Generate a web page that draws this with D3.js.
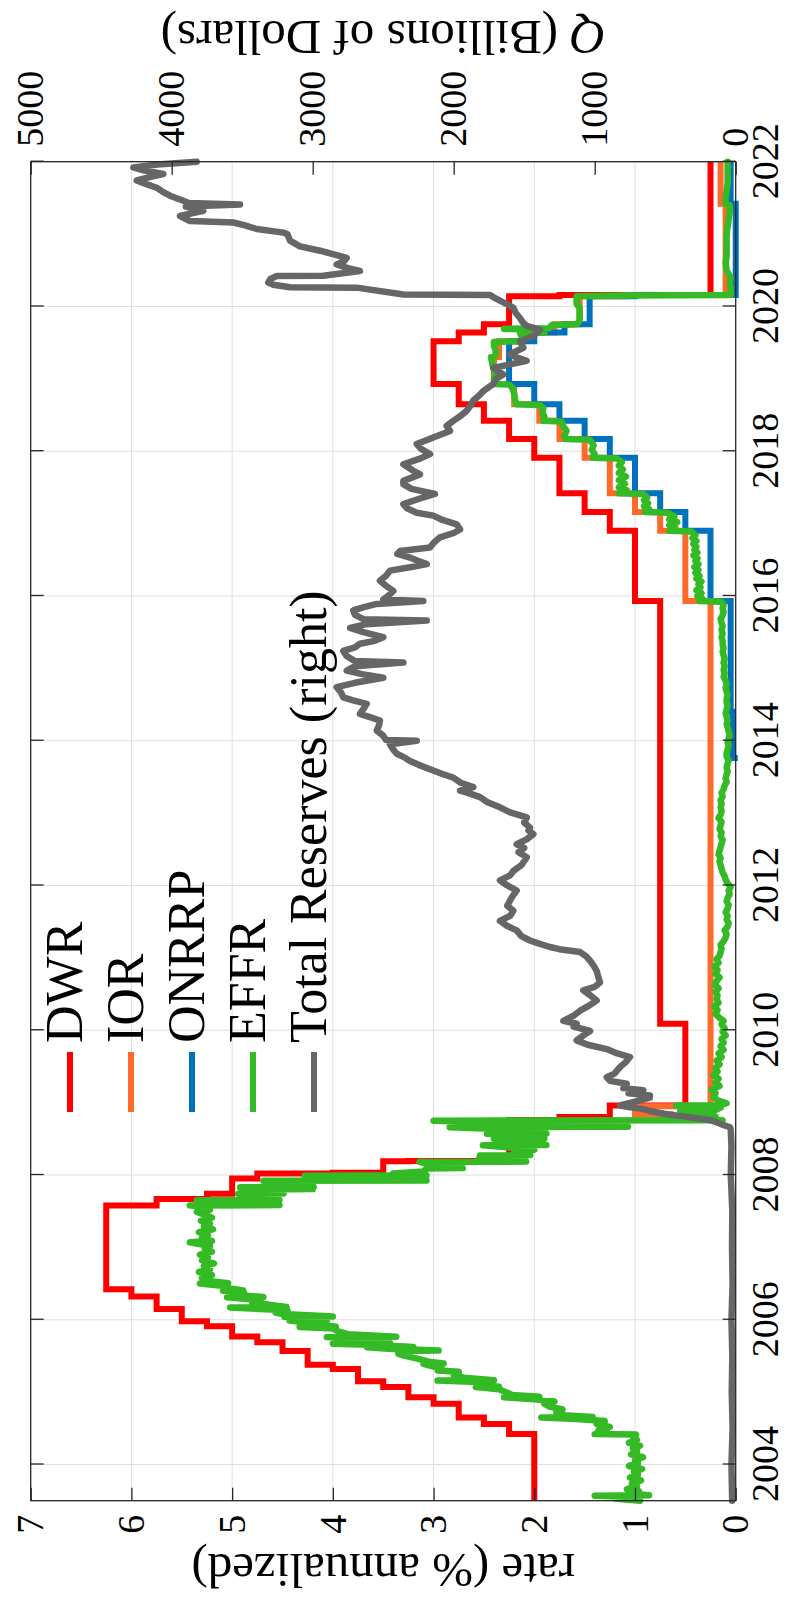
<!DOCTYPE html>
<html>
<head>
<meta charset="utf-8">
<script src="https://cdn.jsdelivr.net/npm/d3@7"></script>
<style>
  body { margin: 0; background: #fff; }
  svg text { font-family: "Liberation Serif", "DejaVu Serif", serif; fill: #000; }
</style>
</head>
<body>
<svg id="chart" width="787" height="1599"></svg>
<script>
// ---- data (decimal year, value) ----
const yearTicks = [2004, 2006, 2008, 2010, 2012, 2014, 2016, 2018, 2020, 2022];
const rateTicks = [0, 1, 2, 3, 4, 5, 6, 7];
const qTicks = [0, 1000, 2000, 3000, 4000, 5000];
const legendLabels = ["DWR", "IOR", "ONRRP", "EFFR", "Total Reserves (right)"];

const dwr = [
  [2003.50, 2.00], [2004.42, 2.25], [2004.56, 2.50], [2004.65, 2.75], [2004.84, 3.00], [2004.93, 3.25],
  [2005.07, 3.50], [2005.15, 3.75], [2005.32, 4.00], [2005.38, 4.25], [2005.57, 4.50], [2005.69, 4.75],
  [2005.77, 5.00], [2005.91, 5.25], [2005.98, 5.50], [2006.15, 5.75], [2006.32, 6.00], [2006.42, 6.25],
  [2007.58, 5.75], [2007.67, 5.25], [2007.74, 5.00], [2007.95, 4.75], [2008.02, 4.00], [2008.03, 3.50],
  [2008.19, 3.25], [2008.195, 2.50], [2008.24, 2.25], [2008.76, 1.75], [2008.80, 1.25], [2008.96, 0.50],
  [2010.09, 0.75], [2015.93, 1.00], [2016.90, 1.25], [2017.16, 1.50], [2017.42, 1.75], [2017.91, 2.00],
  [2018.17, 2.25], [2018.42, 2.50], [2018.65, 2.75], [2018.93, 3.00], [2019.52, 2.75], [2019.64, 2.50],
  [2019.755, 2.25], [2020.14, 1.75], [2020.16, 0.25], [2022.00, 0.25]
];

const ior = [
  [2008.74, 0.75], [2008.79, 0.65], [2008.84, 1.00], [2008.95, 0.25], [2015.93, 0.50], [2016.90, 0.75],
  [2017.16, 1.00], [2017.42, 1.25], [2017.91, 1.50], [2018.17, 1.75], [2018.42, 1.95], [2018.65, 2.20],
  [2018.93, 2.40], [2019.30, 2.35], [2019.52, 2.10], [2019.64, 1.80], [2019.755, 1.55], [2020.14, 1.10],
  [2020.16, 0.10], [2021.42, 0.15], [2022.00, 0.15]
];

const onrrp = [
  [2013.72, 0.01], [2013.76, 0.03], [2014.40, 0.05], [2015.93, 0.25], [2016.90, 0.50], [2017.16, 0.75],
  [2017.42, 1.00], [2017.91, 1.25], [2018.17, 1.50], [2018.42, 1.75], [2018.65, 2.00], [2018.93, 2.25],
  [2019.52, 2.00], [2019.64, 1.70], [2019.755, 1.45], [2020.14, 1.00], [2020.16, 0.00], [2021.42, 0.05],
  [2022.00, 0.05]
];

const effr = [
  [2003.50, 0.95], [2003.53, 1.20], [2003.55, 1.00], [2003.57, 1.40], [2003.575, 0.86], [2003.60, 1.05],
  [2003.63, 0.96], [2003.66, 1.08], [2003.70, 0.98], [2003.74, 1.03], [2003.78, 0.94], [2003.82, 1.05],
  [2003.86, 0.97], [2003.90, 1.01], [2003.94, 0.93], [2003.98, 1.06], [2004.02, 0.97], [2004.06, 1.00],
  [2004.10, 0.92], [2004.14, 1.04], [2004.18, 0.98], [2004.22, 1.02], [2004.26, 0.95], [2004.30, 1.06],
  [2004.34, 0.98], [2004.38, 1.02], [2004.415, 0.99],
  [2004.42, 1.40], [2004.45, 1.28], [2004.48, 1.36], [2004.52, 1.25], [2004.56, 1.38], [2004.60, 1.30],
  [2004.63, 1.58], [2004.65, 1.93], [2004.655, 1.42], [2004.68, 1.70], [2004.72, 1.78], [2004.76, 1.72],
  [2004.80, 1.85], [2004.84, 1.90], [2004.87, 1.80], [2004.90, 2.00], [2004.93, 2.30], [2004.935, 1.95],
  [2004.96, 2.22], [2005.00, 2.28], [2005.04, 2.35], [2005.07, 2.58], [2005.075, 2.35], [2005.10, 2.50],
  [2005.14, 2.55], [2005.16, 2.96], [2005.165, 2.40], [2005.20, 2.70], [2005.24, 2.80], [2005.28, 2.75],
  [2005.30, 2.96], [2005.33, 2.92], [2005.36, 3.02], [2005.39, 3.10], [2005.395, 2.90], [2005.42, 3.05],
  [2005.46, 3.15], [2005.50, 3.28], [2005.53, 3.35], [2005.57, 3.35], [2005.575, 2.95], [2005.60, 3.45],
  [2005.62, 3.66], [2005.625, 3.20], [2005.65, 3.55], [2005.67, 4.00], [2005.675, 3.43], [2005.70, 3.60],
  [2005.74, 3.75], [2005.76, 4.06], [2005.765, 3.37], [2005.80, 3.85], [2005.84, 3.95], [2005.88, 4.00],
  [2005.90, 4.33], [2005.905, 3.97], [2005.94, 4.15], [2005.99, 4.43], [2005.995, 4.06], [2006.03, 4.30],
  [2006.04, 4.48], [2006.045, 4.00], [2006.08, 4.50], [2006.10, 4.57], [2006.13, 4.45], [2006.17, 5.02],
  [2006.175, 4.46], [2006.20, 4.60], [2006.24, 4.80], [2006.27, 4.72], [2006.31, 5.05], [2006.315, 4.69],
  [2006.34, 4.95], [2006.37, 4.88], [2006.40, 5.09], [2006.405, 4.89], [2006.44, 5.05], [2006.47, 5.10],
  [2006.50, 5.32], [2006.505, 5.04], [2006.54, 5.25], [2006.58, 5.30], [2006.62, 5.20], [2006.66, 5.33],
  [2006.70, 5.22], [2006.74, 5.28], [2006.78, 5.18], [2006.82, 5.30], [2006.86, 5.24], [2006.90, 5.32],
  [2006.94, 5.20], [2006.98, 5.27], [2007.02, 5.22], [2007.07, 5.42], [2007.09, 5.20], [2007.13, 5.30],
  [2007.17, 5.24], [2007.21, 5.33], [2007.25, 5.19], [2007.29, 5.28], [2007.33, 5.22], [2007.37, 5.31],
  [2007.41, 5.20], [2007.45, 5.27], [2007.49, 5.35], [2007.52, 5.22], [2007.56, 5.30], [2007.58, 5.42],
  [2007.585, 4.53], [2007.62, 5.10], [2007.65, 5.35], [2007.655, 4.53], [2007.69, 4.85], [2007.74, 4.94],
  [2007.745, 4.49], [2007.78, 4.75], [2007.80, 4.69], [2007.805, 4.20], [2007.83, 4.92], [2007.835, 4.19],
  [2007.87, 4.50], [2007.92, 4.69], [2007.925, 3.07], [2007.95, 4.23], [2007.96, 3.40], [2007.99, 4.28],
  [2007.995, 3.07], [2008.02, 3.40], [2008.05, 3.10], [2008.09, 3.07], [2008.095, 2.71], [2008.13, 3.00],
  [2008.18, 3.14], [2008.185, 2.08], [2008.22, 2.55], [2008.25, 2.30], [2008.27, 2.54], [2008.275, 2.04],
  [2008.31, 2.20], [2008.35, 2.00], [2008.41, 2.51], [2008.415, 1.88], [2008.45, 2.10], [2008.50, 2.40],
  [2008.505, 1.90], [2008.54, 2.05], [2008.57, 2.47], [2008.575, 1.88], [2008.62, 2.10], [2008.66, 2.84],
  [2008.665, 1.07], [2008.70, 1.80], [2008.75, 3.00], [2008.755, 0.13], [2008.78, 0.25], [2008.80, 0.70],
  [2008.805, 0.20], [2008.84, 0.30], [2008.89, 0.55], [2008.895, 0.20], [2008.93, 0.15], [2008.96, 0.59],
  [2008.965, 0.18], [2008.99, 0.09],
  [2009.03, 0.18], [2009.08, 0.22], [2009.13, 0.20], [2009.18, 0.24], [2009.23, 0.16], [2009.28, 0.20],
  [2009.33, 0.17], [2009.38, 0.22], [2009.43, 0.18], [2009.48, 0.20], [2009.53, 0.16], [2009.58, 0.19],
  [2009.63, 0.14], [2009.68, 0.17], [2009.73, 0.12], [2009.78, 0.15], [2009.83, 0.12], [2009.88, 0.14],
  [2009.93, 0.10], [2009.98, 0.13], [2010.03, 0.11], [2010.08, 0.14], [2010.13, 0.12], [2010.18, 0.17],
  [2010.23, 0.20], [2010.28, 0.18], [2010.33, 0.21], [2010.38, 0.17], [2010.43, 0.19], [2010.48, 0.18],
  [2010.53, 0.20], [2010.58, 0.17], [2010.63, 0.21], [2010.68, 0.19], [2010.73, 0.16], [2010.78, 0.20],
  [2010.83, 0.18], [2010.88, 0.21], [2010.93, 0.17], [2010.98, 0.19], [2011.03, 0.16], [2011.08, 0.15],
  [2011.13, 0.14], [2011.18, 0.15], [2011.23, 0.12], [2011.28, 0.10], [2011.33, 0.09], [2011.38, 0.11],
  [2011.43, 0.08], [2011.48, 0.07], [2011.53, 0.09], [2011.58, 0.08], [2011.63, 0.10], [2011.68, 0.08],
  [2011.73, 0.07], [2011.78, 0.09], [2011.83, 0.08], [2011.88, 0.06], [2011.93, 0.07], [2011.98, 0.05],
  [2012.03, 0.08], [2012.08, 0.10], [2012.13, 0.11], [2012.18, 0.13], [2012.23, 0.14], [2012.28, 0.15],
  [2012.33, 0.16], [2012.38, 0.15], [2012.43, 0.17], [2012.48, 0.16], [2012.53, 0.15], [2012.58, 0.14],
  [2012.63, 0.13], [2012.68, 0.15], [2012.73, 0.14], [2012.78, 0.16], [2012.83, 0.15], [2012.88, 0.14],
  [2012.93, 0.17], [2012.98, 0.15], [2013.03, 0.14], [2013.08, 0.15], [2013.13, 0.14], [2013.18, 0.15],
  [2013.23, 0.13], [2013.28, 0.14], [2013.33, 0.12], [2013.38, 0.11], [2013.43, 0.09], [2013.48, 0.10],
  [2013.53, 0.09], [2013.58, 0.08], [2013.63, 0.09], [2013.68, 0.08], [2013.73, 0.07], [2013.78, 0.09],
  [2013.83, 0.09], [2013.88, 0.08], [2013.93, 0.07], [2013.98, 0.08], [2014.03, 0.07], [2014.08, 0.06],
  [2014.13, 0.07], [2014.18, 0.08], [2014.23, 0.09], [2014.28, 0.08], [2014.33, 0.09], [2014.38, 0.10],
  [2014.43, 0.09], [2014.48, 0.08], [2014.53, 0.09], [2014.58, 0.09], [2014.63, 0.08], [2014.68, 0.09],
  [2014.73, 0.10], [2014.78, 0.09], [2014.83, 0.10], [2014.88, 0.12], [2014.93, 0.11], [2014.98, 0.12],
  [2015.03, 0.11], [2015.08, 0.12], [2015.13, 0.11], [2015.18, 0.12], [2015.23, 0.13], [2015.28, 0.12],
  [2015.33, 0.13], [2015.38, 0.13], [2015.43, 0.14], [2015.48, 0.13], [2015.53, 0.14], [2015.58, 0.13],
  [2015.63, 0.14], [2015.68, 0.15], [2015.73, 0.13], [2015.78, 0.12], [2015.83, 0.13], [2015.88, 0.12],
  [2015.92, 0.14],
  [2015.93, 0.36], [2015.96, 0.33], [2016.00, 0.38], [2016.04, 0.34], [2016.08, 0.39], [2016.12, 0.35],
  [2016.16, 0.37], [2016.20, 0.34], [2016.24, 0.39], [2016.28, 0.36], [2016.32, 0.40], [2016.36, 0.37],
  [2016.40, 0.41], [2016.44, 0.37], [2016.48, 0.40], [2016.52, 0.38], [2016.56, 0.42], [2016.60, 0.38],
  [2016.64, 0.41], [2016.68, 0.39], [2016.72, 0.42], [2016.76, 0.39], [2016.80, 0.43], [2016.84, 0.40],
  [2016.89, 0.44], [2016.90, 0.66], [2016.94, 0.60], [2016.98, 0.66], [2017.02, 0.58], [2017.06, 0.66],
  [2017.10, 0.61], [2017.15, 0.68], [2017.16, 0.90], [2017.20, 0.86], [2017.24, 0.91], [2017.28, 0.87],
  [2017.32, 0.91], [2017.36, 0.88], [2017.41, 0.92], [2017.42, 1.16], [2017.46, 1.08], [2017.50, 1.16],
  [2017.55, 1.10], [2017.60, 1.16], [2017.65, 1.09], [2017.70, 1.16], [2017.75, 1.12], [2017.80, 1.16],
  [2017.85, 1.13], [2017.90, 1.18], [2017.91, 1.42], [2017.96, 1.40], [2018.02, 1.43], [2018.08, 1.41],
  [2018.12, 1.43], [2018.16, 1.45], [2018.17, 1.69], [2018.22, 1.70], [2018.28, 1.68], [2018.34, 1.71],
  [2018.41, 1.73], [2018.42, 1.91], [2018.48, 1.90], [2018.54, 1.92], [2018.60, 1.91], [2018.64, 1.95],
  [2018.65, 2.18], [2018.72, 2.19], [2018.80, 2.20], [2018.88, 2.22], [2018.92, 2.25], [2018.93, 2.40],
  [2019.00, 2.40], [2019.08, 2.39], [2019.16, 2.41], [2019.24, 2.42], [2019.30, 2.43], [2019.31, 2.39],
  [2019.38, 2.38], [2019.45, 2.40], [2019.51, 2.40], [2019.52, 2.13], [2019.56, 2.12], [2019.60, 2.13],
  [2019.63, 2.14], [2019.64, 1.90], [2019.68, 1.90], [2019.69, 2.30], [2019.70, 1.85], [2019.74, 1.83],
  [2019.755, 1.58], [2019.80, 1.55], [2019.86, 1.55], [2019.92, 1.55], [2019.98, 1.55], [2020.04, 1.58],
  [2020.10, 1.58], [2020.14, 1.58], [2020.15, 1.10], [2020.16, 0.05], [2020.17, 0.08], [2020.20, 0.05],
  [2020.26, 0.05], [2020.32, 0.06], [2020.40, 0.05], [2020.50, 0.09], [2020.60, 0.10], [2020.70, 0.09],
  [2020.80, 0.09], [2020.90, 0.09], [2021.00, 0.09], [2021.10, 0.08], [2021.20, 0.07], [2021.30, 0.06],
  [2021.40, 0.06], [2021.42, 0.10], [2021.50, 0.10], [2021.60, 0.09], [2021.70, 0.08], [2021.80, 0.08],
  [2021.90, 0.08], [2022.00, 0.08]
];

// total reserves, billions of dollars (right axis)
const reserves = [
  [2003.50, 25], [2004.00, 30], [2004.50, 22], [2005.00, 28], [2005.50, 24], [2006.00, 30], [2006.50, 22],
  [2007.00, 26], [2007.50, 24], [2008.00, 35], [2008.40, 30], [2008.62, 35], [2008.66, 40], [2008.70, 100],
  [2008.76, 182], [2008.80, 330], [2008.84, 489], [2008.88, 600], [2008.91, 655], [2008.94, 760],
  [2008.96, 821], [2009.02, 700], [2009.07, 608], [2009.10, 608], [2009.13, 760], [2009.17, 655],
  [2009.20, 797], [2009.26, 773], [2009.30, 891], [2009.35, 915], [2009.40, 860], [2009.49, 821],
  [2009.56, 780], [2009.63, 750], [2009.68, 840], [2009.74, 915], [2009.80, 1050], [2009.86, 1128],
  [2009.93, 1080], [2009.99, 1033], [2010.05, 1150], [2010.09, 1128], [2010.13, 1223], [2010.20, 1150],
  [2010.27, 1104], [2010.34, 1040], [2010.41, 986], [2010.48, 1030], [2010.55, 1081], [2010.60, 1000],
  [2010.66, 962], [2010.74, 975], [2010.82, 986], [2010.90, 1010], [2010.96, 1033], [2011.02, 1060],
  [2011.08, 1104], [2011.12, 1250], [2011.15, 1317], [2011.20, 1400], [2011.24, 1459], [2011.30, 1520],
  [2011.38, 1553], [2011.44, 1620], [2011.51, 1672], [2011.58, 1600], [2011.65, 1577], [2011.72, 1620],
  [2011.79, 1601], [2011.86, 1580], [2011.93, 1553], [2012.00, 1620], [2012.07, 1672], [2012.14, 1600],
  [2012.20, 1577], [2012.28, 1520], [2012.39, 1482], [2012.46, 1540], [2012.52, 1500], [2012.57, 1553],
  [2012.64, 1480], [2012.71, 1435], [2012.76, 1470], [2012.80, 1459], [2012.87, 1500], [2012.94, 1482],
  [2013.01, 1600], [2013.08, 1672], [2013.15, 1760], [2013.22, 1813], [2013.28, 1900], [2013.31, 1955],
  [2013.36, 1861], [2013.42, 1950], [2013.49, 2003], [2013.54, 2080], [2013.59, 2145], [2013.66, 2240],
  [2013.72, 2310], [2013.77, 2350], [2013.82, 2404], [2013.88, 2430], [2013.95, 2452], [2014.00, 2262],
  [2014.01, 2480], [2014.07, 2500], [2014.14, 2546], [2014.21, 2530], [2014.28, 2523], [2014.33, 2600],
  [2014.37, 2665], [2014.44, 2640], [2014.51, 2617], [2014.56, 2720], [2014.60, 2783], [2014.67, 2800],
  [2014.74, 2830], [2014.80, 2700], [2014.87, 2499], [2014.92, 2650], [2014.97, 2759], [2015.03, 2700],
  [2015.08, 2357], [2015.10, 2700], [2015.17, 2760], [2015.24, 2783], [2015.29, 2700], [2015.34, 2665],
  [2015.38, 2560], [2015.43, 2499], [2015.50, 2640], [2015.56, 2735], [2015.61, 2620], [2015.66, 2191],
  [2015.68, 2640], [2015.74, 2700], [2015.80, 2712], [2015.85, 2630], [2015.89, 2546], [2015.93, 2216],
  [2015.95, 2500], [2016.01, 2460], [2016.07, 2428], [2016.14, 2480], [2016.21, 2523], [2016.28, 2480],
  [2016.35, 2452], [2016.40, 2300], [2016.44, 2191], [2016.49, 2260], [2016.53, 2310], [2016.58, 2400],
  [2016.62, 2381], [2016.67, 2168], [2016.74, 2140], [2016.81, 2097], [2016.87, 2000], [2016.92, 1955],
  [2016.99, 1979], [2017.05, 2080], [2017.11, 2145], [2017.15, 2262], [2017.21, 2330], [2017.27, 2357],
  [2017.34, 2250], [2017.41, 2133], [2017.48, 2300], [2017.545, 2357], [2017.59, 2357], [2017.68, 2239],
  [2017.73, 2286], [2017.82, 2357], [2017.89, 2250], [2017.96, 2168], [2018.03, 2230], [2018.10, 2262],
  [2018.19, 2145], [2018.28, 2026], [2018.35, 2050], [2018.42, 2003], [2018.49, 1950], [2018.56, 1908],
  [2018.63, 1880], [2018.70, 1861], [2018.77, 1820], [2018.83, 1790], [2018.93, 1719], [2019.00, 1700],
  [2019.06, 1648], [2019.15, 1719], [2019.20, 1600], [2019.25, 1482], [2019.30, 1560], [2019.34, 1601],
  [2019.43, 1506], [2019.52, 1530], [2019.59, 1435], [2019.68, 1388], [2019.73, 1482], [2019.78, 1510],
  [2019.84, 1530], [2019.91, 1560], [2019.98, 1577], [2020.04, 1630], [2020.08, 1672], [2020.13, 1720],
  [2020.16, 1743], [2020.165, 2357], [2020.26, 2688], [2020.265, 3161], [2020.30, 3280], [2020.33, 3315],
  [2020.38, 3300], [2020.42, 3255], [2020.425, 2925], [2020.49, 2665], [2020.53, 2750], [2020.58, 2830],
  [2020.62, 2780], [2020.67, 2759], [2020.72, 2850], [2020.77, 2948], [2020.83, 3090], [2020.91, 3161],
  [2021.00, 3180], [2021.02, 3208], [2021.07, 3397], [2021.12, 3480], [2021.16, 3563], [2021.18, 3870],
  [2021.25, 3941], [2021.29, 3850], [2021.32, 3776], [2021.38, 3900], [2021.41, 3515], [2021.43, 3880],
  [2021.46, 3918], [2021.53, 4012], [2021.58, 4060], [2021.64, 4106], [2021.69, 4180], [2021.74, 4248],
  [2021.79, 4150], [2021.83, 4059], [2021.88, 4200], [2021.92, 4272], [2021.96, 4100], [2022.00, 3823]
];

// ---- layout: chart is drawn landscape, then turned a quarter turn ----
const W = 1599, H = 787;
const plot = { left: 98.3, right: 1437.3, top: 30.7, bottom: 735.7 };
const colors = ["#ff0000", "#ff6a2b", "#0072bd", "#34ba24", "#666666"];
const axisColor = "#262626";

const svg = d3.select("#chart");
svg.append("rect").attr("width", 787).attr("height", 1599).attr("fill", "#fff");
const g = svg.append("g").attr("transform", `translate(0,${W}) rotate(-90)`);

const x = d3.scaleLinear().domain([2003.5, 2022]).range([plot.left, plot.right]);
const yL = d3.scaleLinear().domain([0, 7]).range([plot.bottom, plot.top]);
const yR = d3.scaleLinear().domain([0, 5000]).range([plot.bottom, plot.top]);

// grid
const grid = g.append("g").attr("stroke", "#dfdfdf").attr("stroke-width", 1);
grid.selectAll(".gx").data(yearTicks).join("line")
    .attr("x1", d => x(d)).attr("x2", d => x(d))
    .attr("y1", plot.top).attr("y2", plot.bottom);
grid.selectAll(".gy").data(rateTicks.slice(1, -1)).join("line")
    .attr("x1", plot.left).attr("x2", plot.right)
    .attr("y1", d => yL(d)).attr("y2", d => yL(d));

// series
const stepLine = d3.line().x(d => x(d[0])).y(d => yL(d[1])).curve(d3.curveStepAfter);
const rateLine = d3.line().x(d => x(d[0])).y(d => yL(d[1]));
const resLine = d3.line().x(d => x(d[0])).y(d => yR(d[1]));

[dwr, ior, onrrp].forEach((s, i) => {
    g.append("path").datum(s).attr("d", stepLine)
        .attr("fill", "none").attr("stroke", colors[i]).attr("stroke-width", 6);
});
g.append("path").datum(effr).attr("d", rateLine)
    .attr("fill", "none").attr("stroke", colors[3]).attr("stroke-width", 6.5)
    .attr("stroke-linejoin", "round").attr("stroke-linecap", "round");
g.append("path").datum(reserves).attr("d", resLine)
    .attr("fill", "none").attr("stroke", colors[4]).attr("stroke-width", 6.5)
    .attr("stroke-linejoin", "round").attr("stroke-linecap", "round");

// axes
const fmt = d3.format("d");
function styleAxis(sel) {
    sel.select(".domain").remove();
    sel.selectAll(".tick line").attr("stroke", axisColor).attr("stroke-width", 1.3);
    sel.selectAll("text").style("font-size", "38px").attr("fill", "#000");
}
const axB = g.append("g").attr("transform", `translate(0,${plot.bottom})`)
    .call(d3.axisBottom(x).tickValues(yearTicks).tickFormat(fmt).tickSizeInner(-13).tickSizeOuter(0));
styleAxis(axB);
axB.selectAll("text").attr("y", 42).attr("dy", null);

const axT = g.append("g").attr("transform", `translate(0,${plot.top})`)
    .call(d3.axisTop(x).tickValues(yearTicks).tickFormat("").tickSizeInner(-13).tickSizeOuter(0));
styleAxis(axT);

const axL = g.append("g").attr("transform", `translate(${plot.left},0)`)
    .call(d3.axisLeft(yL).tickValues(rateTicks).tickFormat(fmt).tickSizeInner(-13).tickSizeOuter(0).tickPadding(14));
styleAxis(axL);

const axR = g.append("g").attr("transform", `translate(${plot.right},0)`)
    .call(d3.axisRight(yR).tickValues(qTicks).tickFormat(fmt).tickSizeInner(-13).tickSizeOuter(0).tickPadding(15));
styleAxis(axR);

// frame
g.append("rect")
    .attr("x", plot.left).attr("y", plot.top)
    .attr("width", plot.right - plot.left).attr("height", plot.bottom - plot.top)
    .attr("fill", "none").attr("stroke", axisColor).attr("stroke-width", 1.3);

// axis labels
g.append("text")
    .attr("transform", `translate(45,${(plot.top + plot.bottom) / 2}) rotate(-90)`)
    .attr("text-anchor", "middle").style("font-size", "49px")
    .text("rate (% annualized)");
const qLab = g.append("text")
    .attr("transform", `translate(1578,${(plot.top + plot.bottom) / 2}) rotate(-90)`)
    .attr("text-anchor", "middle").style("font-size", "49px");
qLab.append("tspan").style("font-style", "italic").text("Q");
qLab.append("tspan").text(" (Billions of Dollars)");

// legend
const leg = g.append("g");
legendLabels.forEach((name, i) => {
    const ly = 70 + i * 61;
    leg.append("line").attr("x1", 487).attr("x2", 547).attr("y1", ly).attr("y2", ly)
        .attr("stroke", colors[i]).attr("stroke-width", 6);
    leg.append("text").attr("x", 556).attr("y", ly + 12)
        .style("font-size", "52px").text(name);
});
</script>
</body>
</html>
